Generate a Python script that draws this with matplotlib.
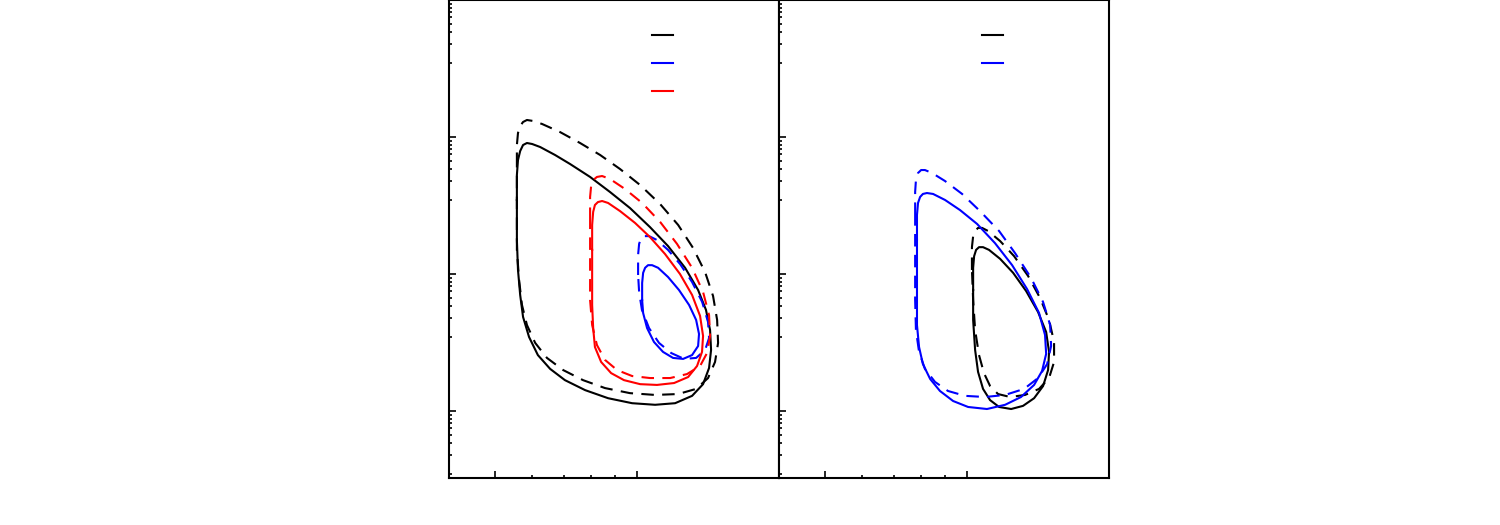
import numpy as np
import matplotlib
matplotlib.use('Agg')
import matplotlib.pyplot as plt
from matplotlib.ticker import NullFormatter, FixedLocator

# left panel contours (solid / dashed)
lb_sol_x = [5.57,5.57,5.60,5.66,5.74,5.85,6.00,6.24,6.71,7.22,7.96,8.77,9.67,10.66,11.64,12.65,13.48,14.01,14.29,14.36,14.22,13.81,13.09,12.05,10.93,9.77,8.69,7.77,7.04,6.55,6.17,5.91,5.74,5.66,5.60,5.57,5.57]
lb_sol_y = [347,528,679,790,874,904,889,845,739,635,511,397,303,220,160,111,76.4,54.6,39.0,27.9,20.6,15.7,12.9,11.4,11.1,11.4,12.4,14.2,16.8,20.3,25.6,34.7,48.6,70.3,107,177,347]
lb_dash_x = [5.57,5.57,5.60,5.66,5.74,5.85,6.03,6.30,6.87,7.58,8.36,9.21,10.16,11.20,12.23,13.15,13.95,14.50,14.79,14.86,14.64,14.15,13.35,12.23,10.93,9.67,8.56,7.69,6.98,6.45,6.09,5.85,5.71,5.63,5.57,5.57,5.57]
lb_dash_y = [625,874,1070,1203,1287,1331,1309,1244,1088,904,739,584,446,324,228,155,103,69.1,46.2,31.4,22.8,17.4,14.5,13.3,13.1,13.5,14.7,16.8,19.9,24.4,31.4,42.4,59.4,90.4,150,293,625]
lr_sol_x = [8.04,8.04,8.08,8.15,8.27,8.44,8.69,9.21,9.91,10.66,11.47,12.34,13.09,13.61,13.81,13.74,13.41,12.84,11.99,11.03,10.16,9.39,8.82,8.40,8.15,8.08,8.04,8.04,8.04]
lr_sol_y = [150,228,284,319,335,341,330,288,236,186,140,100,70.3,49.4,35.3,27.0,21.3,17.7,16.0,15.5,15.7,16.8,18.9,22.8,29.3,40.3,59.4,98.3,150]
lr_dash_x = [7.96,7.96,8.00,8.08,8.23,8.44,8.77,9.44,10.26,11.20,12.16,13.09,13.81,14.22,14.29,14.08,13.61,12.77,11.76,10.66,9.77,9.08,8.56,8.23,8.04,7.96,7.96,7.96,7.96]
lr_dash_y = [248,365,439,485,511,519,494,417,330,240,166,111,73.9,50.2,35.3,26.5,21.3,18.6,17.4,17.4,18.0,19.9,23.6,30.3,42.4,64.6,107,163,248]
lu_sol_x = [10.26,10.26,10.31,10.41,10.56,10.77,11.09,11.64,12.28,12.90,13.35,13.54,13.48,13.09,12.53,11.93,11.36,10.87,10.51,10.31,10.26]
lu_sol_y = [64.6,86.0,102,111,116,116,111,95.1,76.4,59.4,46.2,36.5,29.8,25.6,24.0,24.4,27.0,31.9,40.3,51.9,64.6]
lu_dash_x = [10.06,10.06,10.11,10.21,10.36,10.61,11.03,11.64,12.35,13.09,13.75,14.15,14.22,13.95,13.35,12.59,11.82,11.14,10.61,10.25,10.11,10.06]
lu_dash_y = [98.3,138,166,183,189,189,177,150,118,87.4,62.5,44.6,34.1,27.9,24.4,24.0,26.5,31.4,40.3,54.6,73.9,98.3]

# right panel contours
rb_sol_x = [10.31,10.31,10.36,10.46,10.61,10.82,11.14,11.76,12.53,13.35,14.15,14.72,14.93,14.86,14.50,13.88,13.15,12.41,11.70,11.20,10.82,10.56,10.41,10.31,10.31]
rb_sol_y = [76.4,111,135,150,157,157,150,129,102,75.1,52.8,37.7,27.0,19.9,15.2,12.4,10.9,10.34,10.7,12.0,14.5,19.3,27.9,46.2,76.4]
rb_dash_x = [10.25,10.25,10.31,10.41,10.56,10.77,11.09,11.76,12.59,13.48,14.29,14.93,15.30,15.30,14.93,14.22,13.28,12.35,11.64,11.20,10.87,10.61,10.41,10.31,10.25]
rb_dash_y = [107,157,189,206,217,217,206,174,135,96.7,66.8,46.2,31.9,22.8,17.4,14.5,13.1,12.65,13.3,15.2,18.9,25.6,39.0,64.6,107]
ru_sol_x = [7.84,7.84,7.88,7.96,8.07,8.23,8.48,8.99,9.67,10.51,11.47,12.47,13.41,14.22,14.64,14.72,14.43,13.88,13.02,12.05,11.03,10.06,9.35,8.77,8.36,8.07,7.92,7.84,7.84,7.84,7.84]
ru_sol_y = [177,270,330,365,384,390,384,347,293,232,168,116,77.7,51.9,35.9,26.1,19.6,15.5,12.65,11.1,10.34,10.7,11.83,14.0,17.13,22.0,29.3,42.4,70.3,116,177]
ru_dash_x = [7.77,7.77,7.80,7.88,8.00,8.15,8.44,8.99,9.77,10.66,11.70,12.65,13.68,14.50,15.01,15.08,14.79,14.15,13.22,12.05,10.93,9.91,9.12,8.56,8.15,7.92,7.80,7.77,7.77,7.77,7.77]
ru_dash_y = [270,397,485,546,574,574,546,477,384,288,206,142,93.5,62.5,42.4,29.8,22.0,17.4,14.5,13.1,12.65,12.9,14.0,16.3,20.3,27.0,39.0,64.6,107,177,270]

dash = (0, (6, 4))
# minor tick fractions below each y major tick, as seen on the reference axis
y_major = [1e1, 1e2, 1e3, 1e4]
y_sub = [0.933, 0.876, 0.817, 0.751, 0.671, 0.582, 0.481, 0.346]

fig = plt.figure(figsize=(15, 5.25), dpi=100)
ax1 = fig.add_axes([449/1500, 47/525, 330/1500, 478/525])
ax2 = fig.add_axes([779/1500, 47/525, 330/1500, 478/525])

ax1.plot(lb_sol_x, lb_sol_y, color='black', lw=1.5)
ax1.plot(lb_dash_x, lb_dash_y, color='black', lw=1.5, ls=dash)
ax1.plot(lu_sol_x, lu_sol_y, color='blue', lw=1.5)
ax1.plot(lu_dash_x, lu_dash_y, color='blue', lw=1.5, ls=dash)
ax1.plot(lr_sol_x, lr_sol_y, color='red', lw=1.5)
ax1.plot(lr_dash_x, lr_dash_y, color='red', lw=1.5, ls=dash)

ax2.plot(rb_sol_x, rb_sol_y, color='black', lw=1.5)
ax2.plot(rb_dash_x, rb_dash_y, color='black', lw=1.5, ls=dash)
ax2.plot(ru_sol_x, ru_sol_y, color='blue', lw=1.5)
ax2.plot(ru_dash_x, ru_dash_y, color='blue', lw=1.5, ls=dash)

for ax, cols in ((ax1, ['black', 'blue', 'red']), (ax2, ['black', 'blue'])):
    ax.set_xscale('log')
    ax.set_yscale('log')
    ax.set_xlim(4, 20)
    ax.set_ylim(10 ** (4 - 478 / 137), 1e4)
    ax.xaxis.set_major_locator(FixedLocator([5, 10]))
    ax.xaxis.set_minor_locator(FixedLocator([6, 7, 8, 9]))
    ax.yaxis.set_major_locator(FixedLocator(y_major))
    ax.yaxis.set_minor_locator(FixedLocator([m * f for m in y_major for f in y_sub]))
    for a in (ax.xaxis, ax.yaxis):
        a.set_major_formatter(NullFormatter())
        a.set_minor_formatter(NullFormatter())
    ax.tick_params(which='both', direction='in', top=False, right=False, width=1.2)
    ax.tick_params(which='major', length=5)
    ax.tick_params(which='minor', length=2.5)
    for s in ax.spines.values():
        s.set_linewidth(1.5)
    h = [plt.Line2D([], [], color=c, lw=1.5) for c in cols]
    ax.legend(h, [' '] * len(h), loc='upper left', bbox_to_anchor=(0.615, 0.939), frameon=False,
              borderpad=0, borderaxespad=0, handlelength=1.5, labelspacing=1.0, fontsize=10)

fig.savefig('out.png', dpi=100)
